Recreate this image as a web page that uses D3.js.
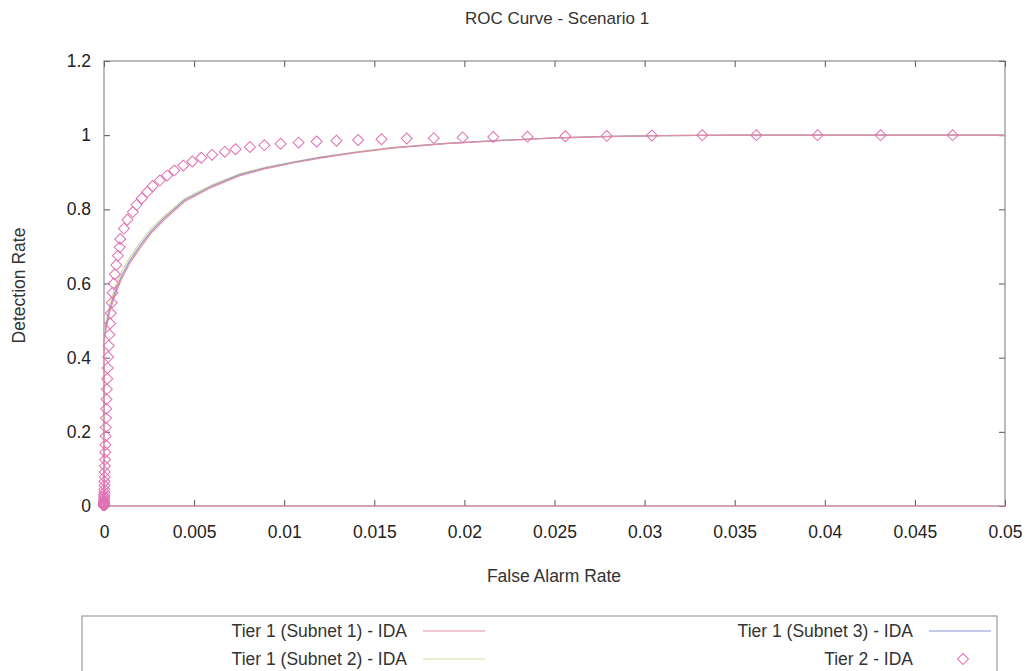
<!DOCTYPE html>
<html>
<head>
<meta charset="utf-8">
<script src="https://cdn.jsdelivr.net/npm/d3@7"></script>
<style>
  body { margin: 0; background: #fff; }
  svg { display: block; font-family: "Liberation Sans", Arial, sans-serif; }
</style>
</head>
<body>
<svg id="chart"></svg>
<script>
// ---- data ----
var xTicks = [0, 0.005, 0.01, 0.015, 0.02, 0.025, 0.03, 0.035, 0.04, 0.045, 0.05];
var xTickLabels = ["0", "0.005", "0.01", "0.015", "0.02", "0.025", "0.03", "0.035", "0.04", "0.045", "0.05"];
var yTicks = [0, 0.2, 0.4, 0.6, 0.8, 1, 1.2];
var yTickLabels = ["0", "0.2", "0.4", "0.6", "0.8", "1", "1.2"];

// Tier 1 curves: [false alarm rate, detection rate]
var subnet1 = [[0.05, 0], [0, 0], [0, 0.44], [0.0001, 0.475], [0.0003, 0.52], [0.0006, 0.568], [0.001, 0.615],
  [0.0014, 0.652], [0.002, 0.695], [0.0026, 0.735], [0.0033, 0.77], [0.0045, 0.822], [0.006, 0.86],
  [0.0075, 0.89], [0.009, 0.91], [0.0105, 0.925], [0.012, 0.938], [0.014, 0.953], [0.016, 0.965],
  [0.019, 0.977], [0.022, 0.985], [0.025, 0.992], [0.028, 0.996], [0.031, 0.999], [0.035, 1],
  [0.05, 1]];
var subnet2 = [[0, 0.45], [0.0001, 0.49], [0.0003, 0.54], [0.0006, 0.588], [0.001, 0.635],
  [0.0014, 0.668], [0.002, 0.71], [0.0026, 0.747], [0.0033, 0.78], [0.0045, 0.83], [0.006, 0.866],
  [0.0075, 0.895], [0.009, 0.914], [0.0105, 0.928], [0.012, 0.941], [0.014, 0.955], [0.016, 0.967],
  [0.019, 0.978], [0.022, 0.986], [0.025, 0.993], [0.028, 0.997], [0.031, 0.999], [0.035, 1],
  [0.05, 1]];
var subnet3 = [[0, 0.445], [0.0001, 0.482], [0.0003, 0.528], [0.0006, 0.576], [0.001, 0.623],
  [0.0014, 0.659], [0.002, 0.702], [0.0026, 0.74], [0.0033, 0.775], [0.0045, 0.826], [0.006, 0.863],
  [0.0075, 0.893], [0.009, 0.912], [0.0105, 0.927], [0.012, 0.94], [0.014, 0.954], [0.016, 0.966],
  [0.019, 0.978], [0.022, 0.986], [0.025, 0.993], [0.028, 0.997], [0.031, 0.999], [0.035, 1],
  [0.05, 1]];

// Tier 2 points
var tier2 = [[0, 0], [0, 0.001], [0, 0.002], [0, 0.003], [0, 0.004], [0, 0.005], [0, 0.006], [0, 0.008],
  [0, 0.01], [0, 0.013], [0, 0.016],
  [0.00001, 0.02], [0.00001, 0.025], [0.00001, 0.03], [0.00002, 0.037], [0.00002, 0.045], [0.00003, 0.055],
  [0.00003, 0.066], [0.00004, 0.078], [0.00004, 0.092], [0.00005, 0.108], [0.00006, 0.125], [0.00007, 0.145],
  [0.00008, 0.165], [0.00009, 0.188], [0.0001, 0.212], [0.00011, 0.237], [0.00012, 0.262], [0.00014, 0.288],
  [0.00016, 0.315], [0.00018, 0.343], [0.0002, 0.372], [0.00023, 0.402], [0.00026, 0.432], [0.0003, 0.462],
  [0.00034, 0.492], [0.00038, 0.52], [0.00043, 0.548], [0.00048, 0.575], [0.00054, 0.6], [0.0006, 0.625],
  [0.00068, 0.65], [0.00077, 0.675], [0.00087, 0.698], [0.0009, 0.72], [0.0011, 0.748], [0.0013, 0.772],
  [0.0016, 0.793], [0.0018, 0.812], [0.0021, 0.83], [0.0024, 0.847], [0.0027, 0.863], [0.0031, 0.878],
  [0.0035, 0.891], [0.0039, 0.905], [0.0044, 0.918], [0.0049, 0.929], [0.0054, 0.939], [0.006, 0.947],
  [0.0067, 0.955], [0.0073, 0.962], [0.0081, 0.968], [0.0089, 0.973], [0.0098, 0.977], [0.0108, 0.98],
  [0.0118, 0.983], [0.0129, 0.985], [0.0141, 0.987], [0.0154, 0.989], [0.0168, 0.991], [0.0183, 0.992],
  [0.0199, 0.994], [0.0216, 0.995], [0.0235, 0.996], [0.0256, 0.997], [0.0279, 0.998], [0.0304, 0.999],
  [0.0332, 1], [0.0362, 1], [0.0396, 1], [0.0431, 1], [0.0471, 1]];

var seriesNames = ["Tier 1 (Subnet 1) - IDA", "Tier 1 (Subnet 2) - IDA", "Tier 1 (Subnet 3) - IDA", "Tier 2 - IDA"];
var seriesColors = ["#e58fa0", "#d3dc9c", "#8f94d6", "#e070b4"];

// ---- chart ----
var width = 1027, height = 671;
var margin = { top: 61, right: 22, bottom: 165, left: 104 };
var plotW = width - margin.left - margin.right;
var plotH = height - margin.top - margin.bottom;

var svg = d3.select('#chart')
  .attr('width', width)
  .attr('height', height);

var x = d3.scaleLinear().domain([0, 0.05]).range([0, plotW]);
var y = d3.scaleLinear().domain([0, 1.2]).range([plotH, 0]);

var g = svg.append('g')
  .attr('transform', 'translate(' + margin.left + ',' + margin.top + ')');

g.append('clipPath').attr('id', 'clip')
  .append('rect').attr('x', -6).attr('y', -1).attr('width', plotW + 7).attr('height', plotH + 6);

// axes with inward ticks on all four sides
function styleAxis(sel) {
  sel.select('.domain').remove();
  sel.selectAll('.tick line').attr('stroke', '#555');
  sel.selectAll('.tick text').attr('fill', '#222').style('font-size', '17.5px');
}

g.append('g').attr('transform', 'translate(0,' + plotH + ')')
  .call(d3.axisBottom(x).tickValues(xTicks).tickSize(-6).tickPadding(20)
    .tickFormat(function(d, i) { return xTickLabels[i]; }))
  .call(styleAxis);
g.append('g')
  .call(d3.axisTop(x).tickValues(xTicks).tickSize(-6).tickFormat(''))
  .call(styleAxis);
g.append('g')
  .call(d3.axisLeft(y).tickValues(yTicks).tickSize(-6).tickPadding(13)
    .tickFormat(function(d, i) { return yTickLabels[i]; }))
  .call(styleAxis);
g.append('g').attr('transform', 'translate(' + plotW + ',0)')
  .call(d3.axisRight(y).tickValues(yTicks).tickSize(-6).tickFormat(''))
  .call(styleAxis);

g.append('rect')
  .attr('width', plotW).attr('height', plotH)
  .attr('fill', 'none').attr('stroke', '#777').attr('stroke-width', 1);

var line = d3.line()
  .x(function(d) { return x(d[0]); })
  .y(function(d) { return y(d[1]); });

var plot = g.append('g').attr('clip-path', 'url(#clip)');

[subnet2, subnet3, subnet1].forEach(function(s) {
  var i = [subnet1, subnet2, subnet3].indexOf(s);
  plot.append('path')
    .datum(s)
    .attr('d', line)
    .attr('fill', 'none')
    .attr('stroke', seriesColors[i])
    .attr('stroke-width', 1.2);
});

var diamond = d3.symbol().type(d3.symbolSquare).size(60);

plot.selectAll('.pt')
  .data(tier2)
  .enter()
  .append('path')
  .attr('class', 'pt')
  .attr('d', diamond)
  .attr('transform', function(d) {
    return 'translate(' + x(d[0]) + ',' + y(d[1]) + ') rotate(45)';
  })
  .attr('fill', 'none')
  .attr('stroke', seriesColors[3])
  .attr('stroke-width', 1);

// titles
svg.append('text')
  .attr('x', 557).attr('y', 24)
  .attr('text-anchor', 'middle')
  .style('font-size', '17px').attr('fill', '#333')
  .text('ROC Curve - Scenario 1');

svg.append('text')
  .attr('x', 554).attr('y', 582)
  .attr('text-anchor', 'middle')
  .style('font-size', '17.5px').attr('fill', '#333')
  .text('False Alarm Rate');

svg.append('text')
  .attr('transform', 'translate(25,' + (margin.top + plotH / 2 + 2) + ') rotate(-90)')
  .attr('text-anchor', 'middle')
  .style('font-size', '17.5px').attr('fill', '#333')
  .text('Detection Rate');

// legend
var legend = svg.append('g');
legend.append('rect')
  .attr('x', 82).attr('y', 616)
  .attr('width', 915).attr('height', 80)
  .attr('fill', 'none').attr('stroke', '#888').attr('stroke-width', 1);

var legendPos = [[407, 631], [407, 659], [913, 631], [913, 659]];
seriesNames.forEach(function(name, i) {
  var p = legendPos[i];
  legend.append('text')
    .attr('x', p[0]).attr('y', p[1] + 6)
    .attr('text-anchor', 'end')
    .style('font-size', '17.5px').attr('fill', '#333')
    .text(name);
  if (i < 3) {
    legend.append('line')
      .attr('x1', p[0] + 16).attr('x2', p[0] + 78)
      .attr('y1', p[1]).attr('y2', p[1])
      .attr('stroke', seriesColors[i]).attr('stroke-width', 1.2);
  } else {
    legend.append('path')
      .attr('d', diamond)
      .attr('transform', 'translate(' + (p[0] + 50) + ',' + p[1] + ') rotate(45)')
      .attr('fill', 'none')
      .attr('stroke', seriesColors[3]);
  }
});
</script>
</body>
</html>
